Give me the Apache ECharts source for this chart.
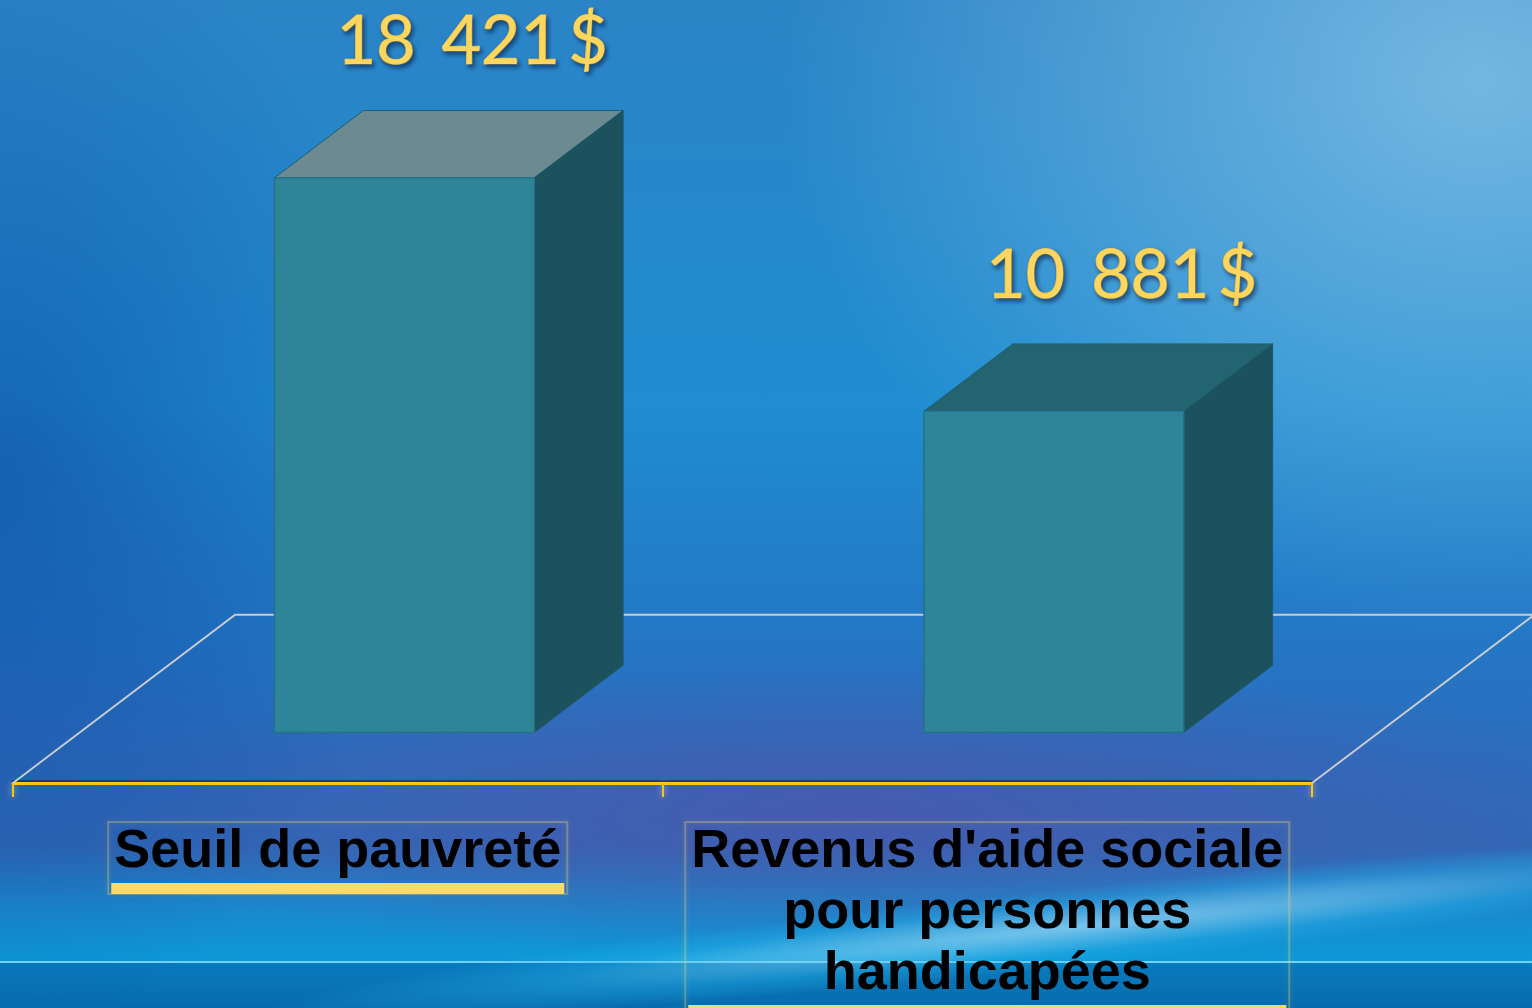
<!DOCTYPE html>
<html>
<head>
<meta charset="utf-8">
<script src="https://cdn.jsdelivr.net/npm/echarts@6/dist/echarts.min.js"></script>
<style>
html, body { margin: 0; padding: 0; }
#wrap {
    position: relative;
    width: 1532px;
    height: 1008px;
    overflow: hidden;
    background:
        linear-gradient(to bottom, transparent 961px, rgba(140, 225, 255, 0.8) 961px, rgba(140, 225, 255, 0.8) 963px, rgba(0, 60, 130, 0.3) 963px),
        radial-gradient(ellipse 700px 560px at 1480px 80px, rgba(140, 200, 235, 0.75), rgba(140, 200, 235, 0) 100%),
        radial-gradient(ellipse 420px 560px at 0px 470px, rgba(10, 60, 150, 0.5), rgba(10, 60, 150, 0) 100%),
        radial-gradient(ellipse 800px 150px at 850px 810px, rgba(80, 85, 170, 0.7), rgba(80, 85, 170, 0) 100%),
        linear-gradient(to bottom, #2b84c6 0%, #1f8dd0 40%, #2378c6 62%, #2c6cbc 76%, #2f68b6 84%, #1a88cc 90%, #0d98d8 95%, #0a80c0 100%);
}
.streak {
    position: absolute;
    left: 250px;
    top: 895px;
    width: 1500px;
    height: 80px;
    transform: rotate(-6deg);
    background: radial-gradient(ellipse at 55% 50%, rgba(180, 235, 255, 0.6), rgba(40, 180, 235, 0.35) 45%, rgba(40, 180, 235, 0) 70%);
}
#main { position: absolute; left: 0; top: 0; width: 1532px; height: 1008px; }
</style>
</head>
<body>
<div id="wrap">
    <div class="streak"></div>
    <div id="main"></div>
</div>
<script>
const categories = ['Seuil de pauvreté', "Revenus d'aide sociale\npour personnes\nhandicapées"]
const values = [18421, 10881]
const yMin = 500
const yMax = 22000

// profondeur du sol, en part de la largeur d'une catégorie
const FLOOR_DX = 0.342
const FLOOR_DY = 0.259
const topColors = ['#6b8a92', '#22646f']
const labelFont = 'bold 54px "Liberation Sans"'

function money(v) {
    return String(v).replace(/\B(?=(\d{3})+(?!\d))/g, '\u2009 ') + '\u2009$'
}

// largeur de chaque étiquette, pour la bande jaune dessous
const ctx = document.createElement('canvas').getContext('2d')
ctx.font = labelFont
const labelWidths = categories.map(c => Math.max.apply(null, c.split('\n').map(s => ctx.measureText(s).width)))
const rich = {
    t: { fontFamily: 'Liberation Sans', fontWeight: 'bold', fontSize: 54, lineHeight: 61, color: '#000' }
}
labelWidths.forEach((w, i) => {
    rich['u' + i] = { width: Math.round(w) + 6, height: 11, lineHeight: 11, backgroundColor: '#fcd96a' }
})

function renderFloor(params, api) {
    const cs = params.coordSys
    const band = cs.width / categories.length
    const fdx = band * FLOOR_DX
    const fdy = band * FLOOR_DY
    const yb = cs.y + cs.height
    return {
        type: 'polyline',
        silent: true,
        shape: {
            points: [[cs.x, yb], [cs.x + fdx, yb - fdy], [cs.x + cs.width + fdx, yb - fdy], [cs.x + cs.width, yb]]
        },
        style: { stroke: '#c8ccd1', lineWidth: 2, fill: null }
    }
}

function renderBar(params, api) {
    const idx = api.value(0)
    const v = api.value(1)
    const band = api.size([1, 0])[0]
    const base = api.coord([idx, yMin])
    const top = api.coord([idx, v])
    const fdx = band * FLOOR_DX
    const fdy = band * FLOOR_DY
    const w = band * 0.4
    const ox = fdx * 0.3
    const oy = fdy * 0.3
    const bdx = fdx * 0.4
    const bdy = fdy * 0.4
    const cx = base[0] + ox
    const x0 = cx - w / 2
    const x1 = cx + w / 2
    const yb = base[1] - oy
    const yt = top[1] - oy
    return {
        type: 'group',
        children: [
            {
                type: 'polygon',
                shape: { points: [[x0, yt], [x1, yt], [x1 + bdx, yt - bdy], [x0 + bdx, yt - bdy]] },
                style: { fill: topColors[idx], stroke: '#1d5f6e', lineWidth: 1 }
            },
            {
                type: 'polygon',
                shape: { points: [[x1, yt], [x1 + bdx, yt - bdy], [x1 + bdx, yb - bdy], [x1, yb]] },
                style: { fill: '#1c525e', stroke: '#1d5a68', lineWidth: 1 }
            },
            {
                type: 'rect',
                shape: { x: x0, y: yt, width: w, height: yb - yt },
                style: { fill: '#2e8597', stroke: '#24718a', lineWidth: 1.5 }
            },
            {
                type: 'text',
                style: {
                    x: cx + 68,
                    y: yt - bdy - 68,
                    text: money(v),
                    align: 'center',
                    verticalAlign: 'middle',
                    font: '68px Lato',
                    fill: '#fcd65e',
                    stroke: '#f7c84a',
                    lineWidth: 1.2,
                    textShadowColor: 'rgba(0,20,60,0.55)',
                    textShadowBlur: 4,
                    textShadowOffsetX: 2,
                    textShadowOffsetY: 3
                }
            }
        ]
    }
}

const chart = echarts.init(document.getElementById('main'))
chart.setOption({
    backgroundColor: 'transparent',
    animation: false,
    grid: { left: 13, right: 220, top: 117.5, bottom: 225, outerBoundsMode: 'none' },
    xAxis: {
        type: 'category',
        data: categories,
        axisLine: {
            lineStyle: { color: '#f5c813', width: 3, shadowColor: 'rgba(0,20,70,0.5)', shadowOffsetY: -2 }
        },
        axisTick: {
            show: true,
            length: 14,
            lineStyle: { color: '#f5c813', width: 2, shadowColor: 'rgba(255,230,150,0.8)', shadowBlur: 6 }
        },
        axisLabel: {
            interval: 0,
            margin: 39,
            formatter: function (val, i) {
                return val.split('\n').map(s => '{t|' + s + '}').join('\n') + '\n{u' + i + '|}'
            },
            rich: rich,
            padding: [0, 3, 0, 3],
            borderColor: 'rgba(255,215,100,0.3)',
            borderWidth: 2,
            shadowColor: 'rgba(255,215,100,0.6)',
            shadowBlur: 6
        }
    },
    yAxis: { type: 'value', min: yMin, max: yMax, show: false },
    series: [
        {
            type: 'custom',
            renderItem: renderFloor,
            data: [[0, yMin]],
            silent: true,
            z: 1
        },
        {
            type: 'custom',
            renderItem: renderBar,
            data: values.map((v, i) => [i, v]),
            z: 2
        }
    ]
})
</script>
</body>
</html>
